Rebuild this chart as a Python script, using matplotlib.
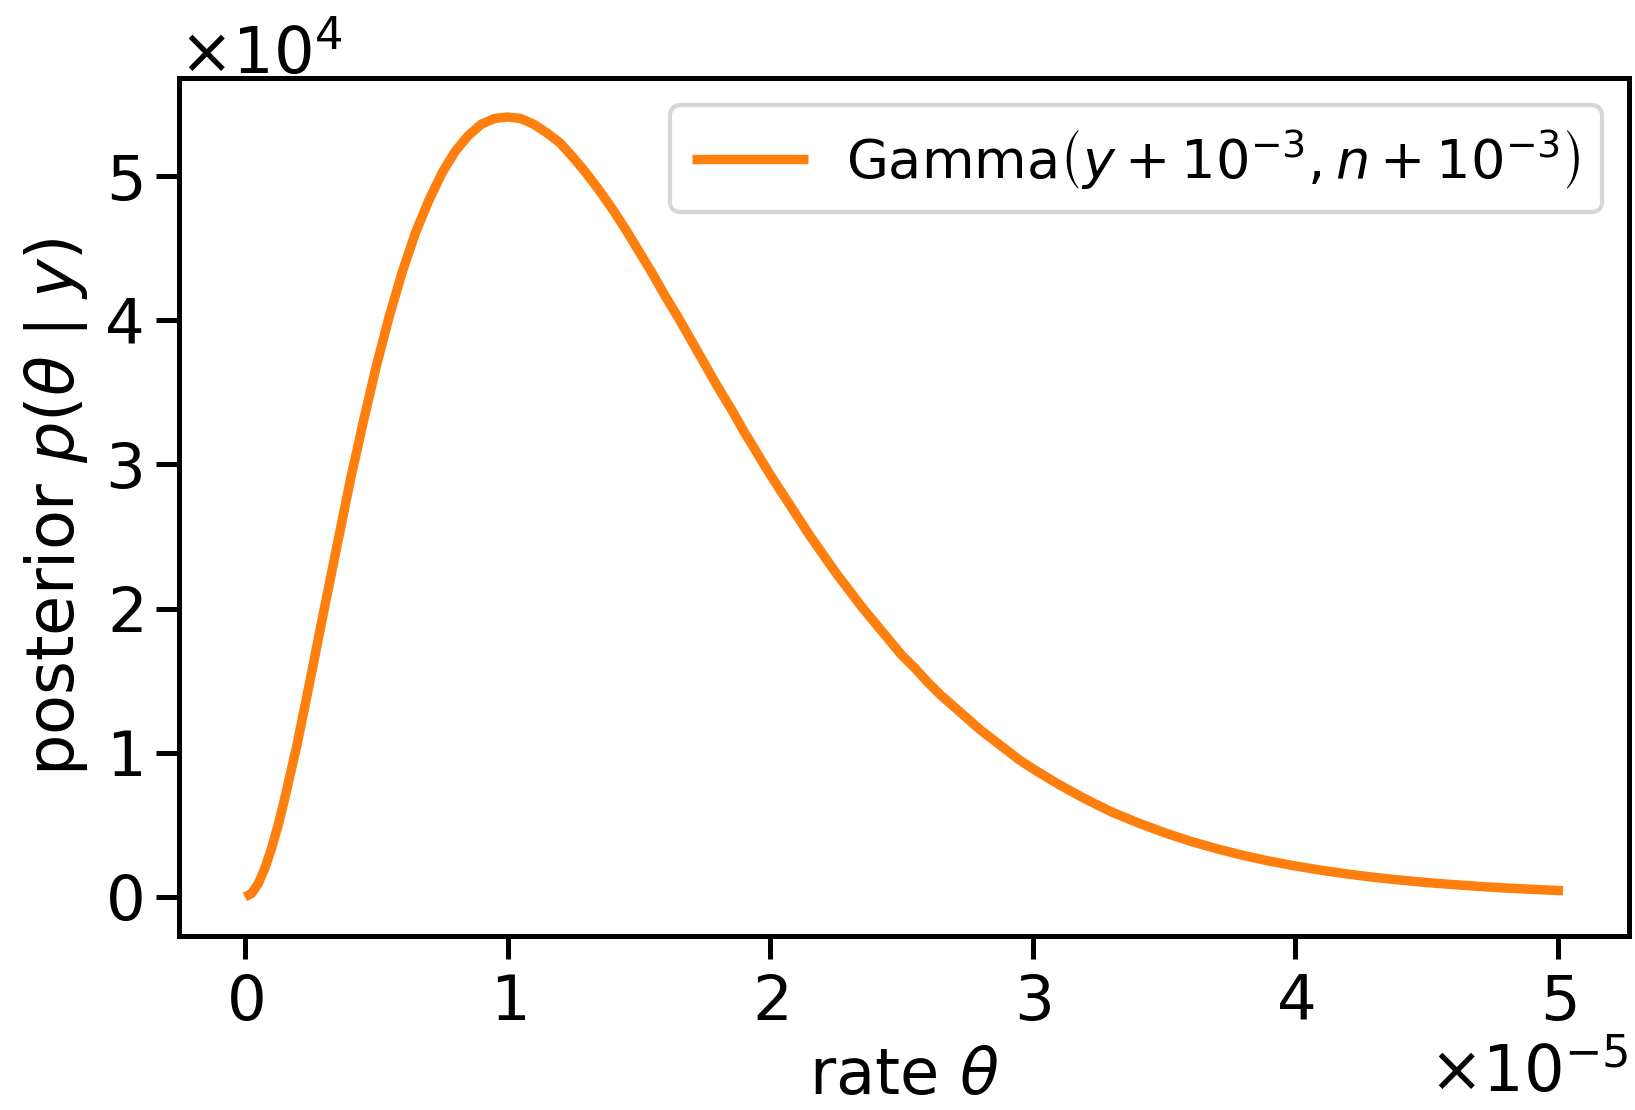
import matplotlib
matplotlib.use("Agg")
import matplotlib.pyplot as plt
import numpy as np

# rate theta (units of 1e-5) and posterior density (units of 1e4)
rate = [0.0, 0.025, 0.05, 0.075, 0.1, 0.125, 0.15, 0.2, 0.25, 0.3, 0.35, 0.4, 0.45, 0.5,
        0.55, 0.6, 0.65, 0.7, 0.75, 0.8, 0.85, 0.9, 0.95, 1.0, 1.05, 1.1, 1.15, 1.2,
        1.25, 1.3, 1.35, 1.4, 1.45, 1.5, 1.55, 1.6, 1.65, 1.7, 1.75, 1.8, 1.85, 1.9,
        1.95, 2.0, 2.05, 2.1, 2.15, 2.2, 2.25, 2.3, 2.35, 2.4, 2.45, 2.5, 2.55, 2.6,
        2.65, 2.7, 2.75, 2.8, 2.85, 2.9, 2.95, 3.0, 3.1, 3.2, 3.3, 3.4, 3.5, 3.6,
        3.7, 3.8, 3.9, 4.0, 4.1, 4.2, 4.3, 4.4, 4.5, 4.6, 4.7, 4.8, 4.9, 5.0, 5.02]
dens = [0.0, 0.024, 0.09, 0.194, 0.33, 0.487, 0.67, 1.07, 1.52, 1.98, 2.43, 2.88, 3.29, 3.68,
        4.03, 4.34, 4.61, 4.83, 5.02, 5.17, 5.28, 5.36, 5.40, 5.41, 5.40, 5.36, 5.30, 5.23,
        5.13, 5.02, 4.90, 4.77, 4.63, 4.48, 4.33, 4.17, 4.02, 3.86, 3.70, 3.54, 3.39, 3.23,
        3.08, 2.93, 2.79, 2.65, 2.51, 2.38, 2.25, 2.13, 2.01, 1.90, 1.79, 1.68, 1.59, 1.49,
        1.40, 1.32, 1.24, 1.16, 1.09, 1.02, 0.95, 0.89, 0.78, 0.68, 0.59, 0.515, 0.447, 0.387,
        0.335, 0.289, 0.249, 0.215, 0.185, 0.159, 0.136, 0.117, 0.100, 0.086, 0.073, 0.062,
        0.053, 0.045, 0.044]

x = np.array(rate) * 1e-5
y = np.array(dens) * 1e4

plt.rcParams["font.family"] = "DejaVu Sans"
plt.rcParams["mathtext.fontset"] = "dejavusans"

fig, ax = plt.subplots(figsize=(16.35, 11.1), dpi=100)
fig.subplots_adjust(left=0.1095, right=0.9963, top=0.9297, bottom=0.1568)

ax.plot(x, y, color="#ff7f0e", lw=6.8, solid_capstyle="butt",
        label=r"Gamma$\left(y + 10^{-3}, n + 10^{-3}\right)$")

ax.ticklabel_format(style="sci", scilimits=(0, 0), useMathText=True)
ax.xaxis.get_offset_text().set_fontsize(46)
ax.yaxis.get_offset_text().set_fontsize(46)
ax.xaxis.OFFSETTEXTPAD = 7

ax.set_xlabel(r"rate $\theta$", fontsize=46, labelpad=9)
ax.set_ylabel(r"posterior $p(\theta \mid y)$", fontsize=47, labelpad=10)
ax.tick_params(labelsize=45, width=3.6, length=16.5, pad=10)
for s in ax.spines.values():
    s.set_linewidth(3.6)

leg = ax.legend(loc="upper right", fontsize=39, handlelength=2.15, handletextpad=0.7)
leg.get_frame().set_linewidth(3)

fig.savefig("out.png", dpi=100)
